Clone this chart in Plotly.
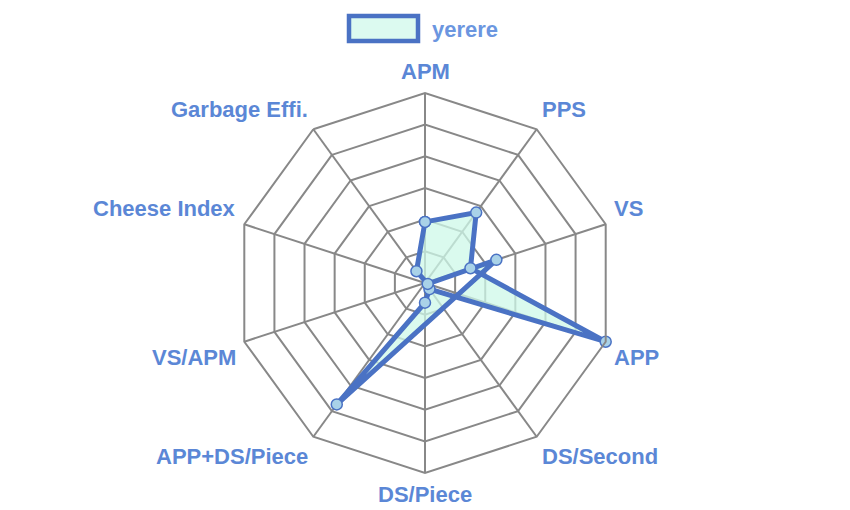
import math
import plotly.graph_objects as go

categories = ["APM", "PPS", "VS", "APP", "DS/Second", "DS/Piece",
              "APP+DS/Piece", "VS/APM", "Cheese Index", "Garbage Effi."]
values = [1.93, 2.75, 1.51, 6.0, 0.24, 0.62, 4.74, -2.37, -0.09, 0.46]
series_name = "yerere"

LINE = "#4a72c4"
FILL = "rgba(205,248,232,0.75)"
TEXT = "#5b87d6"
GRID = "#888888"
W, H = 850, 510
CX, CY, R = 425, 283, 190   # polar centre / radius in pixels
LABEL_PAD = 8

n = len(categories)
# a negative value is drawn on the opposite spoke (as the original radar does)
theta_plot = [categories[i] if v >= 0 else categories[(i + n // 2) % n]
              for i, v in enumerate(values)]
r_plot = [abs(v) for v in values]
theta_plot.append(theta_plot[0])
r_plot.append(r_plot[0])

fig = go.Figure()
fig.add_trace(go.Scatterpolar(
    r=r_plot, theta=theta_plot, mode="lines+markers", fill="toself",
    fillcolor=FILL, name=series_name, showlegend=False,
    line=dict(color=LINE, width=5),
    marker=dict(size=11, color="#a9d2e8", line=dict(color=LINE, width=1.5)),
    cliponaxis=False,
))

# point labels placed around the outer polygon
annotations = []
label_font = dict(family="Liberation Sans", size=22, color=TEXT, weight="bold")
for i, name in enumerate(categories):
    ang = 360.0 * i / n
    a = math.radians(ang)
    px = CX + (R + LABEL_PAD) * math.sin(a)
    py = CY - (R + LABEL_PAD) * math.cos(a)
    if abs(ang) < 1e-6 or abs(ang - 180) < 1e-6:
        xa = "center"
    elif ang < 180:
        xa = "left"
    else:
        xa = "right"
    if abs(ang - 90) < 1e-6 or abs(ang - 270) < 1e-6:
        ya = "middle"
    elif ang < 90 or ang > 270:
        ya = "bottom"
    else:
        ya = "top"
    annotations.append(dict(text=name, xref="paper", yref="paper",
                            x=px / W, y=1 - py / H, xanchor=xa, yanchor=ya,
                            showarrow=False, font=label_font, borderpad=0))

annotations.append(dict(text=series_name, xref="paper", yref="paper",
                        x=430 / W, y=1 - 29 / H, xanchor="left", yanchor="middle",
                        showarrow=False,
                        font=dict(family="Liberation Sans", size=22, color="#6b96e0",
                                  weight="bold")))

fig.update_layout(
    width=W, height=H,
    margin=dict(l=0, r=0, t=0, b=0),
    paper_bgcolor="white", plot_bgcolor="white",
    polar=dict(
        domain=dict(x=[(CX - R) / W, (CX + R) / W],
                    y=[1 - (CY + R) / H, 1 - (CY - R) / H]),
        gridshape="linear",
        bgcolor="white",
        radialaxis=dict(range=[0, 6], dtick=1, showticklabels=False, ticks="",
                        showline=False, gridcolor=GRID, gridwidth=1.6),
        angularaxis=dict(rotation=90, direction="clockwise", categoryorder="array",
                         categoryarray=categories, showticklabels=False,
                         showline=True, linecolor=GRID, linewidth=2,
                         gridcolor=GRID, gridwidth=1.6, ticks=""),
    ),
    shapes=[dict(type="rect", xref="paper", yref="paper",
                 x0=349 / W, x1=418 / W, y0=1 - 41 / H, y1=1 - 16 / H,
                 line=dict(color=LINE, width=4.5), fillcolor="#dcfaf0")],
    annotations=annotations,
)

fig.write_html("out.html")
